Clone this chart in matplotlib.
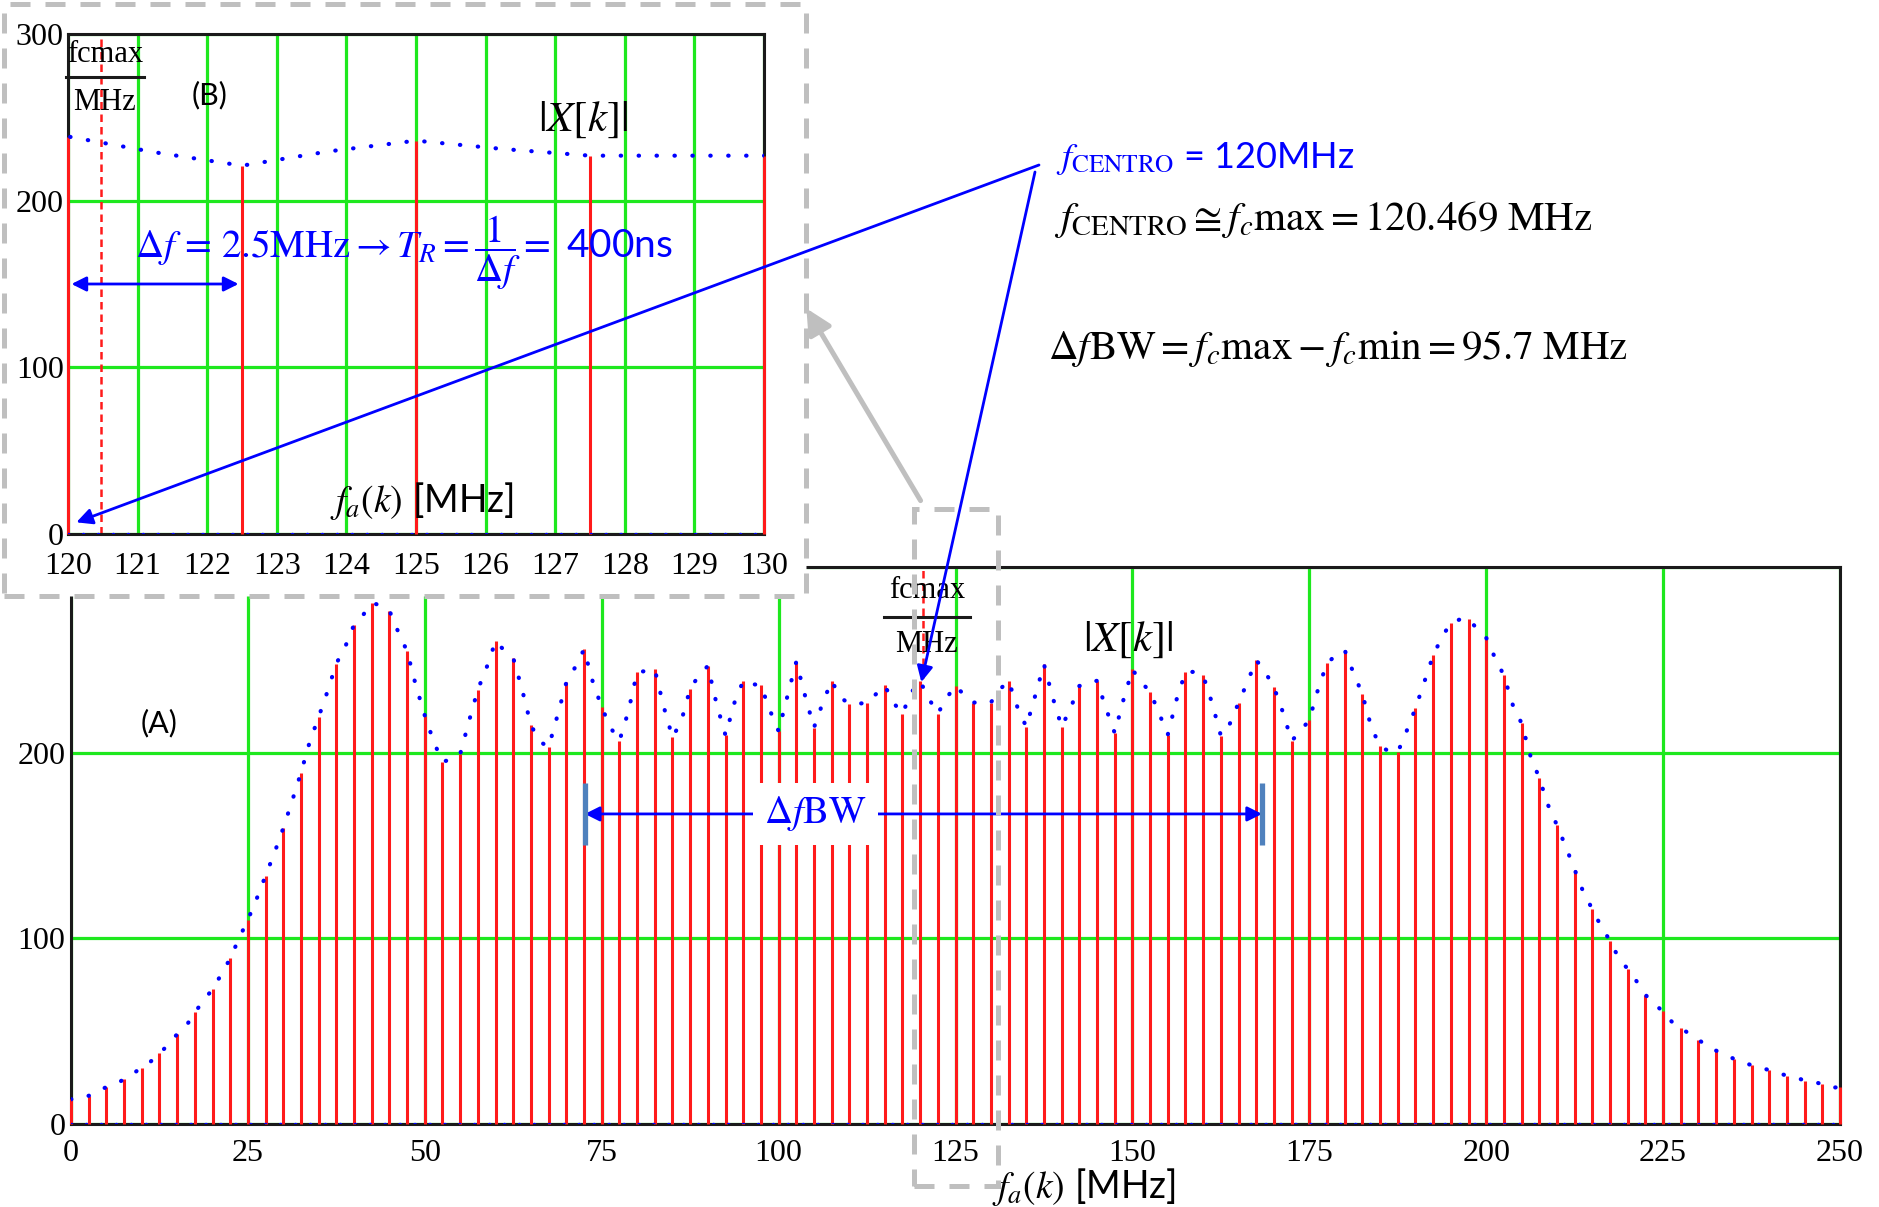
import numpy as np
import matplotlib
matplotlib.use("Agg")
import matplotlib.pyplot as plt
from matplotlib.patches import Rectangle, FancyArrowPatch, ConnectionPatch
from matplotlib.lines import Line2D

plt.rcParams['mathtext.fontset'] = 'stix'
plt.rcParams['font.family'] = ['Lato', 'DejaVu Sans']

W, H = 1879, 1207

# |X[k]| sampled every 2.5 MHz (0 .. 250 MHz)
stem_mag = [13.3, 15.2, 19.9, 24.1, 30.4, 38.0, 48.4, 60.2, 72.7, 89.2,
            110, 133.8, 159.4, 189.2, 219.2, 248, 268.9, 280.5, 276.5, 254.6,
            220, 195, 199.2, 234, 260, 251, 214.8, 203, 237.8, 255.6,
            224.5, 206.3, 243.3, 244.8, 208.2, 234.5, 246.7, 209.3, 238.7, 236.2,
            211.6, 249, 213.5, 238.7, 226.4, 226.8, 236.2, 221, 238.5, 221,
            236, 227, 227, 238.7, 213.9, 247.6, 213.9, 235.9, 238.7, 210.6,
            244.8, 232.8, 209.7, 243.5, 241.6, 209.1, 226.8, 249.9, 235.3, 206.3,
            217.6, 248.2, 255.2, 231.5, 203.4, 200.2, 223.9, 252.4, 270, 271.9,
            261.9, 241.6, 215.8, 186.3, 160.9, 137, 115.7, 98.7, 83.5, 69.6,
            60.7, 51.8, 45.5, 39.5, 35.1, 31.7, 29, 26, 23.3, 21.4,
            19.9]
# dotted envelope read halfway between the stems (1.25, 3.75, ... MHz)
mid_mag = [14.6, 17.6, 21.4, 27.1, 33.6, 42.7, 52.6, 66.4, 80.6, 100,
           121.4, 146, 174, 206, 233, 257, 274, 279.5, 265, 236,
           206, 196.5, 217, 246, 255, 234, 206, 220, 246, 238,
           213.5, 222, 244, 225, 217, 241.6, 226, 226.8, 237, 223,
           230.5, 230.5, 227, 229.6, 226.4, 231.5, 226.8, 232.4, 229, 229.6,
           231, 227, 234, 224.5, 230.5, 229.6, 223.9, 238, 224, 228.7,
           238, 221.4, 228.7, 243.5, 226.8, 215.4, 238, 243.5, 222, 211.6,
           234.3, 252.4, 242.9, 213.9, 200.8, 211.6, 238, 262.2, 271.7, 266.6,
           251, 225.8, 198.3, 171.7, 149.3, 124.7, 106.3, 89.2, 76.9, 64.5,
           55, 48.4, 41.7, 37.4, 33.2, 30.4, 27.5, 25.2, 22.8, 19.5]

df = 2.5
fc_max = 120.469
bw = 95.7
f_stem = np.arange(len(stem_mag)) * df
f_curve = np.arange(2 * len(stem_mag) - 1) * df / 2
mag_curve = np.empty(len(f_curve))
mag_curve[0::2] = stem_mag
mag_curve[1::2] = mid_mag

main_xticks = list(range(0, 251, 25))
inset_xticks = list(range(120, 131))
yticks = [0, 100, 200, 300]

GREEN = '#1ee81e'
SERIF = 'Liberation Serif'


def fx(px):
    return px / W


def fy(py):
    return 1 - py / H


def spectrum(ax, xlim, xticks, marker_from):
    keep = (f_stem >= xlim[0]) & (f_stem <= xlim[1])
    ax.vlines(f_stem[keep], 0, np.asarray(stem_mag)[keep], color='#ff1a1a', lw=2.2,
              zorder=6, clip_on=False)
    ax.plot(f_curve, mag_curve, color='blue', lw=3, ls=(0, (0.1, 4.2)),
            dash_capstyle='round', zorder=7)
    ax.axhline(0, color='blue', lw=2.5, ls=(0, (0.1, 4.2)), dash_capstyle='round', zorder=7)
    ax.axvline(fc_max, ymin=marker_from, color='#ff1a1a', lw=1.8, ls=(0, (3, 2)), zorder=2)
    ax.set_xlim(*xlim)
    ax.set_ylim(0, 300)
    ax.set_xticks(xticks, labels=[str(t) for t in xticks], fontfamily=SERIF, fontsize=23)
    ax.set_yticks(yticks, labels=[str(t) for t in yticks], fontfamily=SERIF, fontsize=23)
    ax.tick_params(length=0, pad=4)
    ax.tick_params(axis='x', pad=11)
    ax.grid(True, color=GREEN, lw=2.3)
    ax.set_axisbelow(True)
    for s in ax.spines.values():
        s.set_color('#1a1a1a')
        s.set_linewidth(2.2)
        s.set_zorder(5)


def fcmax_label(cx, y_top, y_bar, y_bot, half):
    fig.text(fx(cx), fy(y_top), 'fcmax', fontfamily=SERIF, fontsize=22,
             ha='center', va='center', zorder=6)
    fig.add_artist(Line2D([fx(cx - half), fx(cx + half)], [fy(y_bar), fy(y_bar)],
                          transform=fig.transFigure, color='#1a1a1a', lw=2.2, zorder=6))
    fig.text(fx(cx), fy(y_bot), 'MHz', fontfamily=SERIF, fontsize=22,
             ha='center', va='center', zorder=6)


fig = plt.figure(figsize=(W / 100, H / 100), dpi=100)

# (A) full spectrum
ax = fig.add_axes([fx(71), fy(1124), (1840 - 71) / W, (1124 - 567) / H])
ax.set_zorder(0)
spectrum(ax, (0, 250), main_xticks, 0.8)
ax.text(0.05, 0.72, '(A)', transform=ax.transAxes, fontsize=22, ha='center', va='center')
ax.annotate('', xy=(fc_max - bw / 2, 167), xytext=(fc_max + bw / 2, 167),
            arrowprops=dict(arrowstyle='<|-|>', color='blue', lw=2, mutation_scale=22,
                            shrinkA=0, shrinkB=0), zorder=8)
ax.vlines([fc_max - bw / 2, fc_max + bw / 2], 150.5, 183.7, color='#4f81bd', lw=3.8, zorder=8)
ax.text(105.2, 167, r'$\Delta f\mathrm{BW}$', color='blue', fontsize=28, ha='center', va='center',
        zorder=9, bbox=dict(facecolor='white', edgecolor='none', pad=8))

# white box with dashed frame behind the zoomed view
fig.add_artist(Rectangle((fx(4), fy(596)), (806 - 4) / W, (596 - 4) / H, transform=fig.transFigure,
                         facecolor='white', edgecolor='#bfbfbf', lw=3.6, ls=(0, (4, 3)), zorder=1))

# (B) zoom 120-130 MHz
ax_in = fig.add_axes([fx(68), fy(534), (764 - 68) / W, (534 - 34) / H])
ax_in.set_zorder(2)
spectrum(ax_in, (120, 130), inset_xticks, 0)
ax_in.tick_params(axis='y', pad=3)
ax_in.tick_params(axis='x', pad=13)
ax_in.annotate('', xy=(120.05, 150), xytext=(122.45, 150),
               arrowprops=dict(arrowstyle='<|-|>', color='blue', lw=2, mutation_scale=22,
                               shrinkA=0, shrinkB=0), zorder=8)

fig.text(fx(210), fy(104), '(B)', fontsize=22, ha='center', va='baseline', zorder=6)
fig.text(fx(135), fy(258), r'$\Delta f\,=\,2.5\mathrm{MHz}\rightarrow T_R=\dfrac{1}{\Delta f}=$ 400ns',
         color='blue', fontsize=28, ha='left', va='baseline', zorder=6)
fig.text(fx(583), fy(120), r'$|X[k]|$', fontsize=31, ha='center', va='center', zorder=6)
fig.text(fx(422), fy(501), r'$f_a(k)$ [MHz]', fontsize=27, ha='center', va='center', zorder=6)
fig.text(fx(1128), fy(640), r'$|X[k]|$', fontsize=31, ha='center', va='center', zorder=6)
fig.text(fx(1084), fy(1187), r'$f_a(k)$ [MHz]', fontsize=27, ha='center', va='center', zorder=6)

fcmax_label(105, 54, 77, 103, 39)
fcmax_label(927, 591, 617, 645, 43)

# small dashed frame around 120-130 MHz and grey pointer to the zoom
fig.add_artist(Rectangle((fx(914), fy(1186)), (998 - 914) / W, (1186 - 509) / H, transform=fig.transFigure,
                         fill=False, edgecolor='#bfbfbf', lw=3.6, ls=(0, (4, 3)), zorder=7))
fig.add_artist(FancyArrowPatch((fx(922), fy(503)), (fx(805), fy(306)), transform=fig.transFigure,
                               arrowstyle='-|>', mutation_scale=38, color='#bfbfbf', lw=3.6, zorder=7))

# annotations on the right
fig.text(fx(1056), fy(168), r'$f_{\mathrm{CENTRO}}$ = 120MHz', color='blue', fontsize=26,
         ha='left', va='baseline', zorder=6)
fig.text(fx(1054), fy(230), r'$f_{\mathrm{CENTRO}}\cong f_c\mathrm{max}=120.469\ \mathrm{MHz}$',
         fontsize=29.5, ha='left', va='baseline', zorder=6)
fig.text(fx(1048), fy(359), r'$\Delta f\mathrm{BW}=f_c\mathrm{max}-f_c\mathrm{min}=95.7\ \mathrm{MHz}$',
         fontsize=29.5, ha='left', va='baseline', zorder=6)

con1 = ConnectionPatch(xyA=(fx(1039), fy(165)), coordsA='figure fraction', xyB=(120.12, 7),
                       coordsB='data', axesB=ax_in, arrowstyle='-|>', mutation_scale=24,
                       color='blue', lw=2, shrinkA=0, shrinkB=0, zorder=8)
con2 = ConnectionPatch(xyA=(fx(1035), fy(172)), coordsA='figure fraction', xyB=(fc_max - 0.3, 238),
                       coordsB='data', axesB=ax, arrowstyle='-|>', mutation_scale=24,
                       color='blue', lw=2, shrinkA=0, shrinkB=0, zorder=8)
fig.add_artist(con1)
fig.add_artist(con2)

fig.savefig('out.png', dpi=100, facecolor='white')
